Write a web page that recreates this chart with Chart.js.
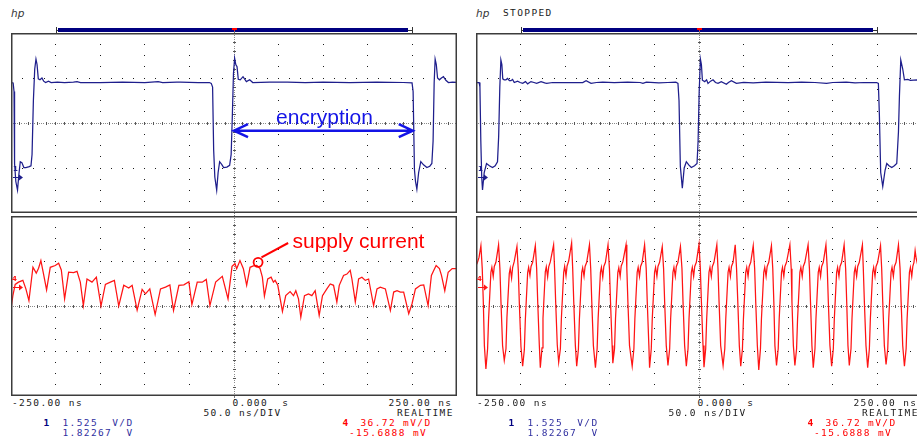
<!DOCTYPE html>
<html>
<head>
<meta charset="utf-8">
<title>Supply current during encryption</title>
<script src="https://cdn.jsdelivr.net/npm/chart.js@4.4.1/dist/chart.umd.min.js"></script>
<style>
    html, body { margin: 0; padding: 0; background: #fff; overflow: hidden; width: 917px; height: 443px; }
    .screen { position: absolute; top: 0; width: 460px; height: 443px; }
    .screen canvas { position: absolute; left: 11px; }
    .mono {
        position: absolute;
        font-family: "DejaVu Sans Mono", monospace;
        font-size: 9.5px;
        line-height: 10px;
        letter-spacing: 1.38px;
        white-space: pre;
        color: #1a1a1a;
    }
    .hp { position: absolute; left: 11px; top: 8px; font: italic 10.5px/10px "DejaVu Sans", sans-serif; color: #333; }
    .bar { position: absolute; top: 28px; height: 3.5px; background: #000080; }
    .bar-end { position: absolute; top: 27px; width: 1px; height: 6px; background: #333; }
    .bar-stub { position: absolute; top: 29.5px; height: 1px; background: #333; }
    .trig { position: absolute; left: 231.5px; top: 28px; width: 5px; height: 2px; background: #f00; }
    .trig-stem { position: absolute; left: 233.5px; top: 28px; width: 1.5px; height: 5px; background: #f00; }
    .cline { position: absolute; left: 234px; width: 0; border-left: 1px dotted #777; }
    .note { position: absolute; font: 21px/21px "Liberation Sans", Arial, sans-serif; white-space: pre; }
    .gnd { position: absolute; font: bold 7px/7px "DejaVu Sans", sans-serif; }
</style>
</head>
<body>
<script>
// time in ns, amplitude in screen divisions (centre line = 0)
const timeTicks = ['-250.00 ns', '0.000  s', '250.00 ns'];
const timebase = ['50.0 ns/DIV', 'REALTIME'];
const ch1Setup = ['1.525  V/D', '1.82267  V'];
const ch4Setup = ['36.72 mV/D', '-15.6888 mV'];
const ch1Ground = -1.195;
const ch4Ground = 0.427;

const encryptionSpan = [0, 200.4];
const encryptionLevel = -0.17;
const currentCallout = [27.0, 0.97];
const calloutLine = [[30.8, 1.08], [60.7, 1.40]];

// left screen: encryption running
const leftVoltage = [
    [-250, 0.90], [-247.6, 0.89], [-246.6, 0.70], [-246.0, -0.90], [-244.6, -1.30], [-242.7, -1.49],
    [-241.2, -1.15], [-239.6, -0.86], [-237.8, -0.88], [-235.6, -0.99], [-233.3, -0.99], [-229.5, -0.97],
    [-227.6, -0.95], [-226.4, -0.70], [-224.9, 0.50], [-223.4, 1.20], [-222.0, 1.42], [-220.8, 1.30],
    [-219.4, 0.98], [-217.5, 0.96], [-215.3, 1.00], [-213.4, 0.93], [-211.2, 0.90], [-208.0, 0.93],
    [-205.0, 0.90], [-198, 0.91], [-190, 0.90], [-180, 0.91], [-176, 0.92], [-172, 0.90], [-150, 0.90],
    [-125, 0.91], [-100, 0.90], [-85, 0.92], [-80, 0.90], [-64, 0.91], [-60, 0.91], [-40, 0.90],
    [-27.6, 0.90], [-25.5, 0.88], [-24.0, 0.80], [-22.8, -0.60], [-21.5, -1.20], [-19.4, -1.49],
    [-17.8, -1.10], [-16.1, -0.86], [-13.8, -0.92], [-11.6, -0.99], [-8.0, -0.98], [-4.9, -0.94],
    [-3.2, -0.70], [-1.8, 0.20], [-0.6, 1.10], [0.7, 1.44], [2.0, 1.30], [3.4, 1.25], [4.8, 0.97],
    [7.0, 0.96], [10.1, 1.03], [13.9, 0.92], [17.6, 0.96], [21, 0.90], [40, 0.91], [60, 0.91],
    [80, 0.90], [100, 0.91], [130, 0.90], [160, 0.91], [190, 0.90], [199.6, 0.89], [200.8, 0.70],
    [202.3, -1.04], [203.5, -1.30], [205.0, -1.47], [207.0, -1.10], [209.4, -0.86], [212.5, -0.93],
    [216.2, -0.99], [219.5, -0.96], [221.8, -0.90], [223.2, -0.40], [224.4, 0.90], [225.5, 1.42],
    [226.8, 1.30], [228.2, 1.00], [230.3, 0.96], [232.5, 1.00], [234.8, 1.03], [237.5, 0.95],
    [240.4, 0.90], [245, 0.91], [250, 0.90]
];

const leftCurrent = [
    [-250.0, -0.06], [-247.9, 0.23], [-245.3, 0.48], [-241.6, 0.53], [-236.7, 0.57], [-233.3, 0.38], [-229.9, 0.12],
    [-225.4, 0.86], [-221.7, 0.73], [-219.1, 0.84], [-216.5, 1.01], [-213.5, 0.71], [-210.1, 0.36],
    [-206.0, 0.86], [-200.4, 0.90], [-196.6, 0.95], [-193.6, 0.80], [-189.9, 0.16],
    [-185.4, 0.75], [-179.8, 0.74], [-176.0, 0.77], [-172.3, 0.53], [-168.9, 0.01],
    [-164.8, 0.60], [-159.2, 0.53], [-154.3, 0.64], [-149.1, 0.00],
    [-144.2, 0.48], [-138.6, 0.53], [-134.1, 0.57], [-129.2, 0.00],
    [-123.6, 0.46], [-118.0, 0.40], [-114.2, 0.46], [-108.6, -0.09],
    [-103.0, 0.37], [-99.2, 0.27], [-94.4, 0.38], [-88.4, -0.19],
    [-82.4, 0.38], [-76.8, 0.42], [-71.9, 0.47], [-67.8, -0.10],
    [-61.8, 0.46], [-56.2, 0.47], [-50.6, 0.54], [-47.2, 0.03],
    [-41.2, 0.53], [-35.6, 0.53], [-31.1, 0.59], [-27.0, 0.01],
    [-20.6, 0.53], [-13.1, 0.66], [-6.7, 0.16],
    [-2.2, 0.88], [1.1, 0.94], [3.0, 0.83], [6.7, 1.01], [10.5, 0.83], [14.2, 0.46],
    [18.0, 0.86], [21.7, 0.89], [25.5, 0.90], [29.2, 0.83], [31.8, 0.64], [34.1, 0.22],
    [37.8, 0.60], [41.6, 0.64], [44.2, 0.53], [46.1, 0.57], [49.1, 0.46], [54.3, -0.12],
    [58.0, 0.23], [62.9, 0.32], [66.7, 0.23], [69.3, 0.34], [72.3, 0.16], [74.9, -0.25],
    [79.0, 0.23], [83.5, 0.27], [87.3, 0.23], [91.0, 0.34], [95.5, -0.21],
    [99.2, 0.23], [104.1, 0.38], [107.9, 0.49], [111.6, 0.46], [115.3, 0.09],
    [118.0, 0.46], [122.8, 0.68], [126.6, 0.71], [130.3, 0.79], [132.2, 0.60], [136.0, 0.09],
    [139.7, 0.60], [143.4, 0.64], [147.2, 0.57], [150.9, 0.60], [156.5, 0.01],
    [160.3, 0.38], [164.0, 0.42], [169.7, 0.38], [175.3, -0.10],
    [179.0, 0.31], [182.8, 0.34], [186.5, 0.31], [190.2, 0.31], [195.9, -0.17],
    [199.6, 0.05], [203.4, 0.38], [209.0, 0.46], [212.7, 0.47], [217.6, 0.01],
    [221.3, 0.68], [223.9, 0.79], [226.6, 0.90], [230.3, 0.83], [232.6, 0.68], [236.3, 0.34],
    [240.1, 0.75], [244.6, 0.83], [250.0, 0.83]
];

// right screen: STOPPED capture
const rightVoltage = [
    [-250, 0.90], [-246.5, 0.90], [-245.6, 0.80], [-244.6, -0.40], [-243.6, -1.20], [-242.7, -1.49],
    [-240.8, -1.10], [-238.2, -0.90], [-235.0, -0.95], [-231.5, -0.99], [-228.5, -0.95], [-225.9, -0.86],
    [-224.6, -0.30], [-223.3, 0.80], [-222.1, 1.40], [-221.0, 1.30], [-220.0, 0.98], [-218.4, 0.96],
    [-216.5, 0.96], [-214.6, 0.99], [-212.6, 0.94], [-210.8, 0.94], [-209.0, 0.97], [-207.1, 0.90],
    [-203.4, 0.93], [-200.5, 0.90], [-197.7, 0.88], [-194.5, 0.92], [-192.1, 0.87], [-188.4, 0.92],
    [-185, 0.90], [-182.0, 0.88], [-177.1, 0.92], [-173, 0.89], [-170.8, 0.88], [-164.0, 0.90],
    [-150, 0.90], [-140, 0.90], [-130.3, 0.90], [-126.6, 0.94], [-121.0, 0.88], [-115, 0.90],
    [-107.9, 0.91], [-95, 0.90], [-80, 0.91], [-66, 0.90], [-62.9, 0.88], [-59, 0.91], [-45, 0.89],
    [-35, 0.90], [-26, 0.91], [-23.6, 0.88], [-22.4, 0.50], [-20.9, -0.97], [-18.7, -1.45],
    [-16.6, -1.00], [-14.2, -0.86], [-11.5, -0.93], [-8.6, -0.99], [-5.0, -0.95], [-2.2, -0.90],
    [-1.0, -0.40], [0.2, 0.70], [1.6, 1.42], [2.7, 1.30], [3.8, 0.95], [6.4, 0.92], [8.5, 0.96],
    [10.1, 0.88], [13, 0.93], [15.7, 0.96], [18.5, 0.90], [21.3, 0.88], [25, 0.92], [30.7, 0.86],
    [33, 0.90], [36.3, 0.94], [41.9, 0.88], [50, 0.90], [60.7, 0.89], [75, 0.91], [100, 0.90],
    [115, 0.91], [130, 0.90], [143, 0.88], [150, 0.90], [165, 0.91], [175, 0.89], [185, 0.90],
    [199.2, 0.90], [201.1, 0.88], [202.2, 0.20], [203.7, -1.10], [206.0, -1.41], [208.6, -1.05],
    [210.5, -0.90], [213, -0.95], [216.1, -0.99], [219, -0.95], [221.7, -0.90], [223.6, -0.20],
    [224.7, 0.60], [226.2, 1.40], [228.4, 1.20], [230.3, 0.96], [234, 0.97], [237, 0.95],
    [244.4, 0.96], [250, 0.94]
];

const rightCurrent = [
    [-250.0, 0.90], [-248.5, 0.96], [-246.6, 1.08], [-244.5, 1.34], [-243.0, 0.83], [-241.8, 0.09], [-240.6, -0.88],
    [-238.9, -1.40], [-237.0, -0.95], [-235.9, -0.29], [-233.3, 0.75], [-232.2, 0.86], [-230.7, 0.66], [-229.5, 0.88], [-227.7, 0.97], [-224.7, 1.36], [-223.2, 0.83], [-222.0, 0.09], [-220.2, -0.88],
    [-218.3, -1.21], [-216.4, -0.95], [-215.3, -0.25], [-212.7, 0.72], [-211.6, 0.84], [-210.1, 0.62], [-208.9, 0.86], [-207.1, 0.99], [-204.1, 1.32], [-202.6, 0.80], [-201.4, 0.05], [-199.6, -0.90],
    [-197.7, -1.34], [-195.8, -0.97], [-194.7, -0.31], [-192.1, 0.74], [-191.0, 0.86], [-189.5, 0.68], [-188.3, 0.88], [-186.5, 0.97], [-183.5, 1.34], [-182.0, 0.83], [-180.8, 0.09], [-179.0, -0.88],
    [-177.9, -1.37], [-176.0, -0.93], [-174.9, -0.27], [-172.3, 0.76], [-171.2, 0.87], [-169.7, 0.65], [-168.5, 0.87], [-166.7, 0.98], [-163.0, 1.36], [-161.9, 0.83], [-160.7, 0.10], [-158.9, -0.86],
    [-157.3, -1.25], [-155.4, -0.95], [-154.3, -0.29], [-151.7, 0.75], [-150.6, 0.88], [-149.1, 0.67], [-147.9, 0.89], [-146.1, 1.00], [-142.8, 1.40], [-141.6, 0.83], [-140.4, 0.09], [-138.6, -0.88],
    [-137.1, -1.34], [-135.2, -0.96], [-134.1, -0.30], [-131.5, 0.74], [-130.4, 0.85], [-128.9, 0.66], [-127.7, 0.88], [-125.9, 0.97], [-122.8, 1.36], [-121.4, 0.83], [-120.2, 0.09], [-118.4, -0.88],
    [-116.1, -1.37], [-114.2, -0.95], [-113.1, -0.29], [-110.5, 0.75], [-109.4, 0.86], [-107.9, 0.64], [-106.7, 0.88], [-104.9, 0.97], [-102.0, 1.36], [-100.4, 0.83], [-99.2, 0.09], [-97.4, -0.88],
    [-96.6, -1.27], [-94.7, -0.95], [-93.6, -0.28], [-91.0, 0.74], [-89.9, 0.85], [-88.4, 0.66], [-87.2, 0.89], [-85.4, 0.98], [-81.8, 1.36], [-80.9, 0.83], [-79.7, 0.09], [-77.9, -0.88],
    [-74.9, -1.34], [-73.0, -0.95], [-71.9, -0.29], [-69.3, 0.75], [-68.2, 0.86], [-66.7, 0.66], [-65.5, 0.88], [-63.7, 0.97], [-61.0, 1.36], [-59.2, 0.83], [-58.0, 0.09], [-56.2, -0.88],
    [-55.4, -1.37], [-53.5, -0.95], [-52.4, -0.29], [-49.8, 0.75], [-48.7, 0.86], [-47.2, 0.66], [-46.0, 0.88], [-44.2, 0.97], [-41.2, 1.32], [-39.7, 0.83], [-38.5, 0.09], [-36.7, -0.88],
    [-34.8, -1.32], [-32.9, -0.95], [-31.8, -0.29], [-29.2, 0.75], [-28.1, 0.86], [-26.6, 0.66], [-25.4, 0.88], [-23.6, 0.97], [-20.8, 1.32], [-19.1, 0.83], [-17.9, 0.09], [-16.1, -0.88],
    [-14.2, -1.34], [-12.3, -0.95], [-11.2, -0.29], [-8.6, 0.75], [-7.5, 0.86], [-6.0, 0.66], [-4.8, 0.88], [-3.0, 0.97], [0.0, 1.37], [1.5, 0.83], [2.7, 0.09], [4.5, -0.88],
    [5.6, -1.36], [7.5, -0.95], [8.6, -0.29], [11.2, 0.75], [12.3, 0.86], [13.8, 0.66], [15.0, 0.88], [16.8, 0.97], [20.0, 1.36], [21.3, 0.83], [22.5, 0.09], [24.3, -0.88],
    [27.0, -1.32], [28.9, -0.95], [30.0, -0.29], [32.6, 0.75], [33.7, 0.86], [35.2, 0.66], [36.4, 0.88], [38.2, 0.97], [40.6, 1.36], [42.1, 0.83], [43.5, 0.09], [45.2, -0.88],
    [46.8, -1.34], [48.7, -0.95], [49.8, -0.29], [52.4, 0.75], [53.5, 0.86], [55.0, 0.66], [56.2, 0.88], [58.0, 0.97], [60.8, 1.34], [62.4, 0.83], [63.6, 0.09], [65.4, -0.88],
    [67.0, -1.42], [68.9, -0.95], [70.0, -0.29], [72.6, 0.75], [73.7, 0.86], [75.2, 0.66], [76.4, 0.88], [78.2, 0.97], [81.2, 1.34], [82.7, 0.83], [83.9, 0.09], [85.1, -0.88],
    [86.9, -1.32], [88.8, -0.95], [89.9, -0.29], [92.5, 0.75], [93.6, 0.86], [95.1, 0.66], [96.3, 0.88], [98.1, 0.97], [101.9, 1.36], [103.4, 0.83], [104.2, 0.09], [105.8, -0.88],
    [107.5, -1.32], [109.4, -0.95], [110.5, -0.29], [113.1, 0.75], [114.2, 0.86], [115.7, 0.66], [116.9, 0.88], [118.7, 0.97], [122.3, 1.36], [123.8, 0.83], [125.0, 0.09], [126.6, -0.88],
    [128.1, -1.37], [130.0, -0.95], [131.1, -0.29], [133.7, 0.75], [134.8, 0.86], [136.3, 0.66], [137.5, 0.88], [139.3, 0.97], [142.3, 1.36], [143.8, 0.83], [145.0, 0.09], [146.8, -0.88],
    [148.7, -1.34], [150.6, -0.95], [151.7, -0.29], [154.3, 0.75], [155.4, 0.86], [156.9, 0.66], [158.1, 0.88], [159.9, 0.97], [162.7, 1.36], [164.4, 0.83], [165.6, 0.09], [167.0, -0.88],
    [168.5, -1.32], [170.4, -0.95], [171.5, -0.29], [174.1, 0.75], [175.2, 0.86], [176.7, 0.66], [177.9, 0.88], [179.7, 0.97], [183.2, 1.36], [184.2, 0.83], [185.4, 0.09], [187.2, -0.88],
    [189.1, -1.37], [191.0, -0.95], [192.1, -0.29], [194.7, 0.75], [195.8, 0.86], [197.3, 0.66], [198.5, 0.88], [200.3, 0.97], [203.5, 1.34], [204.8, 0.83], [206.0, 0.09], [207.8, -0.88],
    [209.7, -1.30], [211.6, -0.95], [212.7, -0.29], [215.3, 0.75], [216.4, 0.86], [217.9, 0.66], [219.1, 0.88], [220.9, 0.97], [223.6, 1.36], [225.4, 0.83], [226.6, 0.09], [228.4, -0.88],
    [230.3, -1.34], [232.2, -0.95], [233.3, -0.29], [235.9, 0.75], [237.0, 0.86], [238.5, 0.66], [239.7, 0.88], [241.0, 0.97], [242.3, 1.23], [243.5, 1.05], [246.0, 0.85], [250.0, 0.85]
];

const BLUE = '#1e1e8c';
const RED = '#ff1414';

// dotted graticule of the scope screen + frame
const graticule = {
    id: 'graticule',
    beforeDatasetsDraw(chart) {
        const { ctx, chartArea: a, scales: { x, y } } = chart;
        const dot = (px, py, c) => { ctx.fillStyle = c; ctx.fillRect(Math.floor(px), Math.floor(py), 1, 1); };
        ctx.save();
        for (let t = -200; t <= 200; t += 50) {
            if (t === 0) continue;
            for (let v = -1.75; v <= 1.76; v += 0.25) dot(x.getPixelForValue(t), y.getPixelForValue(v), '#1a1a1a');
        }
        for (const v of [-1, 1]) {
            for (let t = -237.5; t <= 238; t += 12.5) dot(x.getPixelForValue(t), y.getPixelForValue(v), '#1a1a1a');
        }
        const cx = x.getPixelForValue(0), cy = y.getPixelForValue(0);
        for (let px = a.left + 2; px < a.right - 1; px += 2.2) dot(px, cy, '#8a8a8a');
        for (let py = a.top + 2; py < a.bottom - 1; py += 2.2) dot(cx, py, '#8a8a8a');
        ctx.fillStyle = '#555';
        for (let t = -240; t <= 240; t += 10) ctx.fillRect(Math.floor(x.getPixelForValue(t)), Math.floor(cy) - 1, 1, 3);
        for (let v = -1.8; v <= 1.81; v += 0.2) ctx.fillRect(Math.floor(cx) - 1, Math.floor(y.getPixelForValue(v)), 3, 1);
        ctx.restore();
    },
    afterDatasetsDraw(chart) {
        const { ctx, chartArea: a } = chart;
        ctx.save();
        ctx.strokeStyle = '#3c3c3c';
        ctx.lineWidth = 1.5;
        ctx.strokeRect(a.left + 0.75, a.top + 0.75, a.right - a.left - 1.5, a.bottom - a.top - 1.5);
        ctx.restore();
    }
};

// ground markers and hand-drawn annotations
function marks(extra) {
    return {
        id: 'marks',
        afterDatasetsDraw(chart) {
            const { ctx, chartArea: a, scales: { x, y } } = chart;
            ctx.save();
            const gy = Math.round(y.getPixelForValue(extra.ground)) + 0.5;
            ctx.strokeStyle = extra.color;
            ctx.fillStyle = extra.color;
            ctx.lineWidth = 1;
            ctx.beginPath();
            ctx.moveTo(a.left + 2, gy);
            ctx.lineTo(a.left + 9, gy);
            ctx.stroke();
            ctx.beginPath();
            ctx.moveTo(a.left + 8, gy - 3);
            ctx.lineTo(a.left + 12, gy);
            ctx.lineTo(a.left + 8, gy + 3);
            ctx.closePath();
            ctx.fill();

            if (extra.span) {
                const x0 = x.getPixelForValue(extra.span[0]);
                const x1 = x.getPixelForValue(extra.span[1]);
                const yy = y.getPixelForValue(extra.level);
                ctx.strokeStyle = '#1414e6';
                ctx.lineWidth = 2.5;
                ctx.beginPath();
                ctx.moveTo(x0, yy);
                ctx.lineTo(x1, yy);
                ctx.moveTo(x0 + 14, yy - 6.5);
                ctx.lineTo(x0, yy);
                ctx.lineTo(x0 + 14, yy + 6.5);
                ctx.moveTo(x1 - 14, yy - 6.5);
                ctx.lineTo(x1, yy);
                ctx.lineTo(x1 - 14, yy + 6.5);
                ctx.stroke();
            }
            if (extra.callout) {
                ctx.strokeStyle = '#ff0000';
                ctx.lineWidth = 1.8;
                ctx.beginPath();
                ctx.arc(x.getPixelForValue(extra.callout[0]), y.getPixelForValue(extra.callout[1]), 4.5, 0, Math.PI * 2);
                ctx.stroke();
                ctx.lineWidth = 2;
                ctx.beginPath();
                ctx.moveTo(x.getPixelForValue(extra.line[0][0]), y.getPixelForValue(extra.line[0][1]));
                ctx.lineTo(x.getPixelForValue(extra.line[1][0]), y.getPixelForValue(extra.line[1][1]));
                ctx.stroke();
            }
            ctx.restore();
        }
    };
}

function scopePanel(canvas, points, color, extra) {
    return new Chart(canvas, {
        type: 'scatter',
        data: {
            datasets: [{
                data: points.map(([t, v]) => ({ x: t, y: v })),
                showLine: true,
                borderColor: color,
                borderWidth: 1.25,
                pointRadius: 0,
                pointHoverRadius: 0,
                tension: 0
            }]
        },
        options: {
            responsive: false,
            animation: false,
            events: [],
            layout: { padding: 0 },
            plugins: { legend: { display: false }, tooltip: { enabled: false } },
            scales: {
                x: { type: 'linear', min: -250, max: 250, display: false },
                y: { type: 'linear', min: -2, max: 2, display: false }
            }
        },
        plugins: [graticule, marks(extra)]
    });
}

function text(parent, cls, str, left, top, color, extraStyle) {
    const s = document.createElement('span');
    s.className = cls;
    s.textContent = str;
    s.style.left = left + 'px';
    s.style.top = top + 'px';
    if (color) s.style.color = color;
    if (extraStyle) s.style.cssText += extraStyle;
    parent.appendChild(s);
    return s;
}

function buildScreen(offset, voltage, current, left) {
    const scr = document.createElement('div');
    scr.className = 'screen';
    scr.style.left = offset + 'px';
    document.body.appendChild(scr);

    text(scr, 'hp', 'hp', 11, 8);
    if (!left) text(scr, 'mono', 'STOPPED', 38, 8);

    scr.insertAdjacentHTML('beforeend',
        '<div class="bar-end" style="left:56px"></div>' +
        '<div class="bar-stub" style="left:56px;width:3px"></div>' +
        '<div class="bar" style="left:58px;width:350px"></div>' +
        '<div class="bar-stub" style="left:408px;width:4px"></div>' +
        '<div class="bar-end" style="left:412px"></div>' +
        '<div class="trig"></div><div class="trig-stem"></div>' +
        '<div class="cline" style="top:31px;height:2px"></div>' +
        '<div class="cline" style="top:213px;height:3px"></div>' +
        '<div class="cline" style="top:396px;height:4px"></div>');

    const top = document.createElement('canvas');
    top.width = 446; top.height = 180; top.style.top = '33px';
    const bottom = document.createElement('canvas');
    bottom.width = 446; bottom.height = 180; bottom.style.top = '216px';
    scr.appendChild(top);
    scr.appendChild(bottom);

    scopePanel(top, voltage, BLUE, left
        ? { ground: ch1Ground, color: BLUE, span: encryptionSpan, level: encryptionLevel }
        : { ground: ch1Ground, color: BLUE });
    scopePanel(bottom, current, RED, left
        ? { ground: ch4Ground, color: RED, callout: currentCallout, line: calloutLine }
        : { ground: ch4Ground, color: RED });

    text(scr, 'gnd', '1', 13, 166, BLUE);
    text(scr, 'gnd', '4', 12, 276, RED);

    if (left) {
        text(scr, 'note', 'encryption', 276, 106, '#1414e6');
        text(scr, 'note', 'supply current', 292.5, 230, '#ff0000');
    }

    text(scr, 'mono', timeTicks[0], 12, 398);
    text(scr, 'mono', timeTicks[1], 232.5, 398);
    text(scr, 'mono', timeTicks[2], 388.5, 398);
    text(scr, 'mono', timebase[0], 203.5, 408);
    text(scr, 'mono', timebase[1], 397, 408);
    text(scr, 'mono', '1', 43.5, 418, '#000080', 'font-weight:bold');
    text(scr, 'mono', ch1Setup[0], 62.5, 418, '#3030a0');
    text(scr, 'mono', ch1Setup[1], 62.5, 428, '#3030a0');
    text(scr, 'mono', '4', 342.5, 418, '#ff0000', 'font-weight:bold');
    text(scr, 'mono', ch4Setup[0], 360.5, 418, '#ff0000');
    text(scr, 'mono', ch4Setup[1], 349, 428, '#ff0000');
}

buildScreen(0, leftVoltage, leftCurrent, true);
buildScreen(465, rightVoltage, rightCurrent, false);
</script>
</body>
</html>
